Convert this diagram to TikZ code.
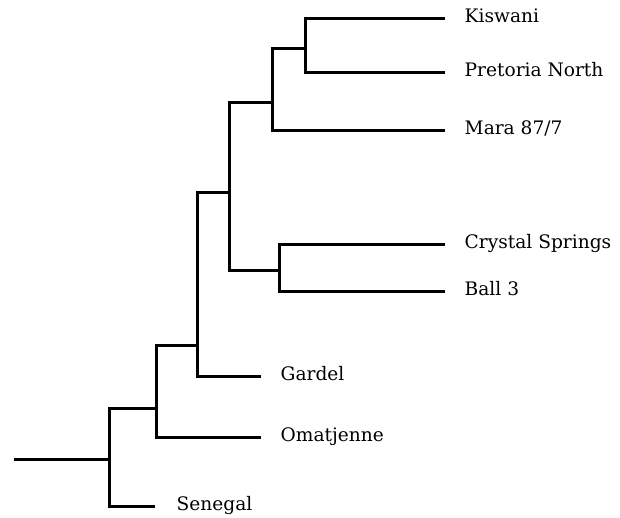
\documentclass[tikz,border=0pt]{standalone}
\usepackage{fontspec}
\setmainfont{DejaVu Serif}
\begin{document}
\begin{tikzpicture}[x=1pt,y=-1pt,
  branch/.style={line width=3pt,line join=miter},
  leaf/.style={anchor=west,inner xsep=20pt,inner ysep=0pt,
    font=\fontsize{18.6}{22}\selectfont,text height=0.73em,text depth=0pt}]
\useasboundingbox (0,0) rectangle (620,517);
% internal nodes
\coordinate (root) at (14,459.5);
\coordinate (n1) at (109.5,459.5);
\coordinate (n2) at (156.5,408.5);
\coordinate (n3) at (197.5,345.5);
\coordinate (n4) at (229.5,192.5);
\coordinate (n5) at (272.5,102.5);
\coordinate (n7) at (305.5,48.5);
\coordinate (n6) at (279.5,270.5);
% leaves
\node[leaf] (kiswani) at (444.5,18.5) {Kiswani};
\node[leaf] (pretoria) at (444.5,72.5) {Pretoria North};
\node[leaf] (mara) at (444.5,130.5) {Mara 87/7};
\node[leaf] (crystal) at (444.5,244.5) {Crystal Springs};
\node[leaf] (ball) at (444.5,291.5) {Ball 3};
\node[leaf] (gardel) at (260.5,376.5) {Gardel};
\node[leaf] (omat) at (260.5,437.5) {Omatjenne};
\node[leaf,inner xsep=22pt] (senegal) at (154.5,506.5) {Senegal};
% branches
\draw[branch] (root) -- (n1);
\draw[branch] (n1) |- (n2);
\draw[branch] (n1) |- (senegal.west);
\draw[branch] (n2) |- (n3);
\draw[branch] (n2) |- (omat.west);
\draw[branch] (n3) |- (n4);
\draw[branch] (n3) |- (gardel.west);
\draw[branch] (n4) |- (n5);
\draw[branch] (n4) |- (n6);
\draw[branch] (n5) |- (n7);
\draw[branch] (n5) |- (mara.west);
\draw[branch] (n7) |- (kiswani.west);
\draw[branch] (n7) |- (pretoria.west);
\draw[branch] (n6) |- (crystal.west);
\draw[branch] (n6) |- (ball.west);
\end{tikzpicture}
\end{document}
